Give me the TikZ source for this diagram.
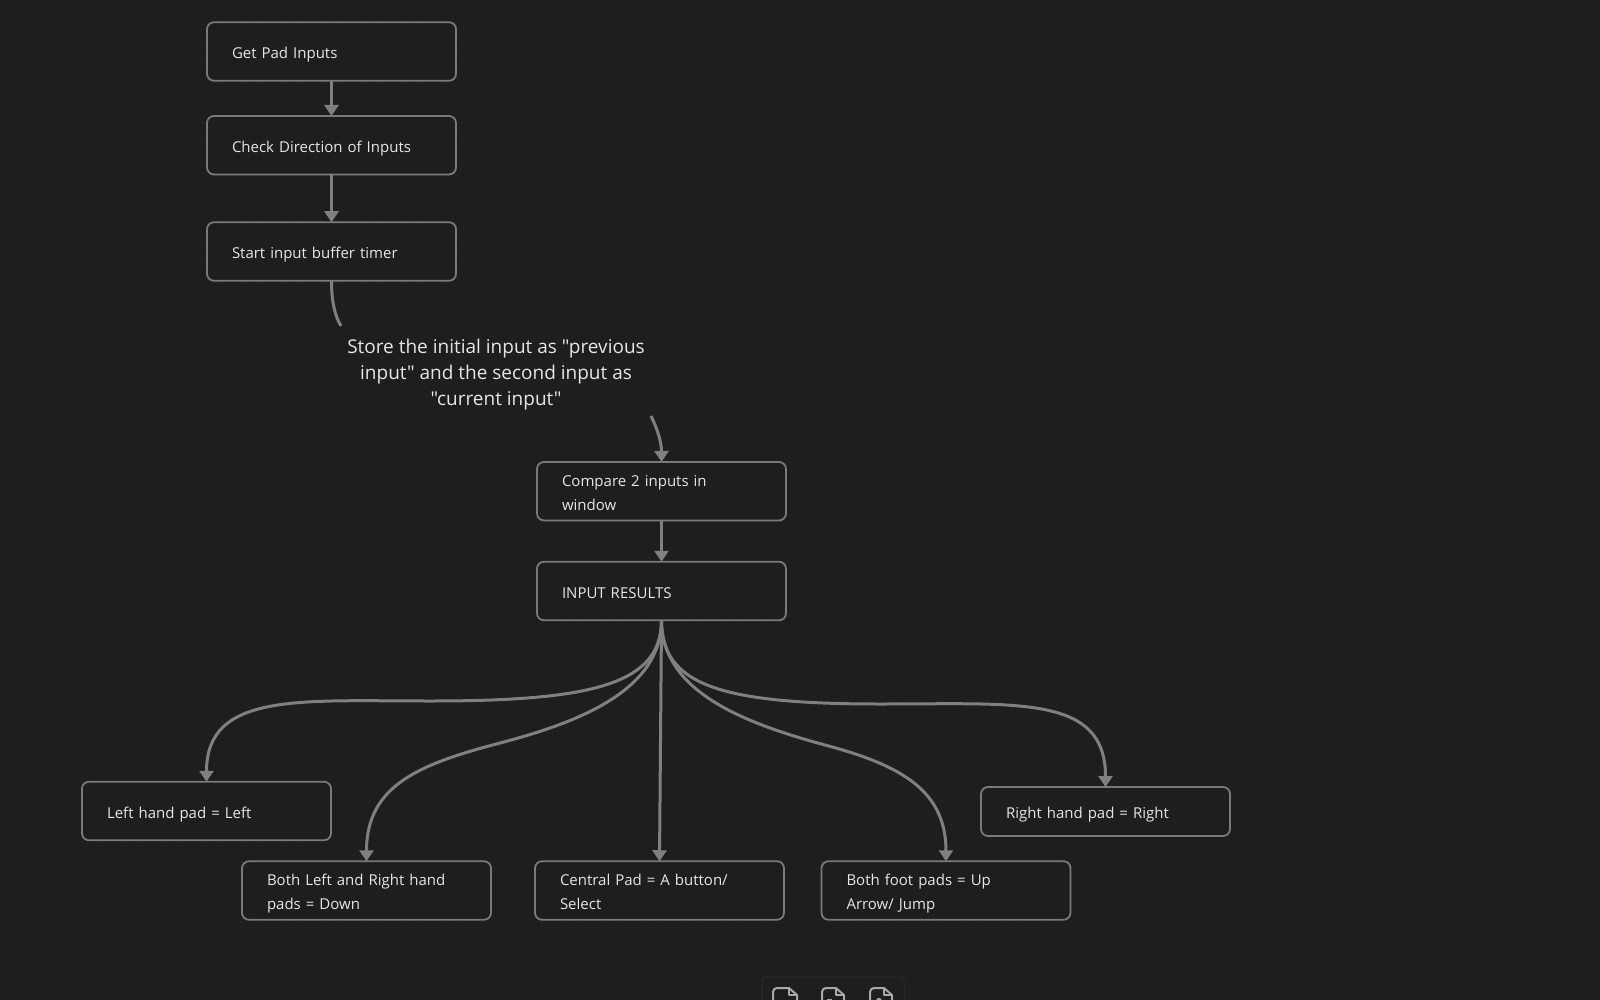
\documentclass[tikz,border=0pt]{standalone}
\usepackage{fontspec}
\setmainfont{Open Sans}[Ligatures=TeXOff]
\usetikzlibrary{arrows.meta}
\definecolor{bgc}{HTML}{1E1E1E}
\definecolor{dotc}{HTML}{2C2C2C}
\definecolor{edgec}{HTML}{808080}
\definecolor{boxc}{HTML}{7A7A7A}
\definecolor{txtc}{HTML}{E6E6E6}
\definecolor{iconc}{HTML}{A8A8A8}
\tikzset{
  procbox/.style={draw=boxc,line width=1.8pt,fill=bgc,rounded corners=7pt,minimum width=249pt,minimum height=58.5pt,
    text=txtc,font=\fontsize{15}{24.2}\selectfont,align=left,text width=199pt,inner xsep=25pt,inner ysep=0pt,outer sep=0pt,anchor=center,
    execute at begin node={\rule{0pt}{20pt}},execute at end node={\rule[-5.6pt]{0pt}{5.6pt}}},
  flow/.style={draw=edgec,line width=3pt,-{Triangle[length=11pt,width=14pt]}},
  flowopen/.style={draw=edgec,line width=3pt},
  edgelabel/.style={text=txtc,font=\fontsize{19}{26}\selectfont,align=center,inner sep=0pt},
  fileicon/.style={draw=iconc,line width=2pt,line join=round}
}
\begin{document}
\begin{tikzpicture}[x=1pt,y=-1pt]
\useasboundingbox (0,0) rectangle (1600,1000);
\fill[bgc] (0,0) rectangle (1600,1000);
\foreach \i in {0,...,79}{\foreach \j in {0,...,49}{\fill[dotc] (2+20*\i,2+20*\j) circle (0.9pt);}}
\node[procbox] (a) at (331.5,51.5) {Get Pad Inputs};
\node[procbox] (b) at (331.5,145.2) {Check Direction of Inputs};
\node[procbox] (c) at (331.5,251.5) {Start input buffer timer};
\node[procbox] (d) at (661.5,491.2) {Compare 2 inputs in\\window};
\node[procbox] (e) at (661.5,591) {INPUT RESULTS};
\node[procbox] (f) at (206.5,811) {Left hand pad = Left};
\node[procbox] (g) at (366.5,890.5) {Both Left and Right hand\\pads = Down};
\node[procbox] (h) at (659.5,890.5) {Central Pad = A button/\\Select};
\node[procbox] (i) at (946,890.5) {Both foot pads = Up\\Arrow/ Jump};
\node[procbox,minimum height=49pt] (j) at (1105.5,811.5) {Right hand pad = Right};
\node[edgelabel] (lab) at (496,375) {Store the initial input as "previous\\input" and the second input as\\"current input"};
\coordinate (cut1) at (341,326);
\coordinate (cut2) at (651,416);
\draw[flow] (a) -- (b);
\draw[flow] (b) -- (c);
\draw[flowopen] (c.south) .. controls (331.5,302) and (335,316) .. (cut1);
\draw[flow] (cut2) .. controls (657,428) and (661.5,442) .. (d.north);
\draw[flow] (d) -- (e);
\draw[flow] (e.south) .. controls (661.5,685) and (590,701) .. (430,701) .. controls (300,701) and (206.5,692) .. (f.north);
\draw[flow] (e.south) .. controls (661.5,690) and (580,722) .. (500,743) .. controls (420,764) and (366.5,785) .. (g.north);
\draw[flow] (e.south) -- (h.north);
\draw[flow] (e.south) .. controls (661.5,690) and (740,722) .. (825,745) .. controls (900,765) and (946,790) .. (i.north);
\draw[flow] (e.south) .. controls (661.5,685) and (720,704) .. (880,704) .. controls (1020,704) and (1105.5,695) .. (j.north);
% toolbar
\fill[fill=bgc,draw=dotc,line width=1pt,rounded corners=3pt] (762,1002) -- (762,977) -- (904,977) -- (904,1002);
\draw[fileicon] (773,1002) -- (773,992) .. controls (773,989.5) and (775,988) .. (777,988) -- (789,988) -- (797,995) -- (797,1002);
\draw[fileicon] (789,988) -- (789,995) -- (797,995);
\draw[fileicon] (822,1002) -- (822,992) .. controls (822,989.5) and (824,988) .. (826,988) -- (836,988) -- (844,995) -- (844,1002);
\draw[fileicon] (836,988) -- (836,995) -- (844,995);
\draw[fileicon] (827,1000) -- (832,1000);
\draw[fileicon] (870,1002) -- (870,992) .. controls (870,989.5) and (872,988) .. (874,988) -- (884,988) -- (892,995) -- (892,1002);
\draw[fileicon] (884,988) -- (884,995) -- (892,995);
\draw[fileicon] (879,1001) circle (2pt);
\end{tikzpicture}
\end{document}
